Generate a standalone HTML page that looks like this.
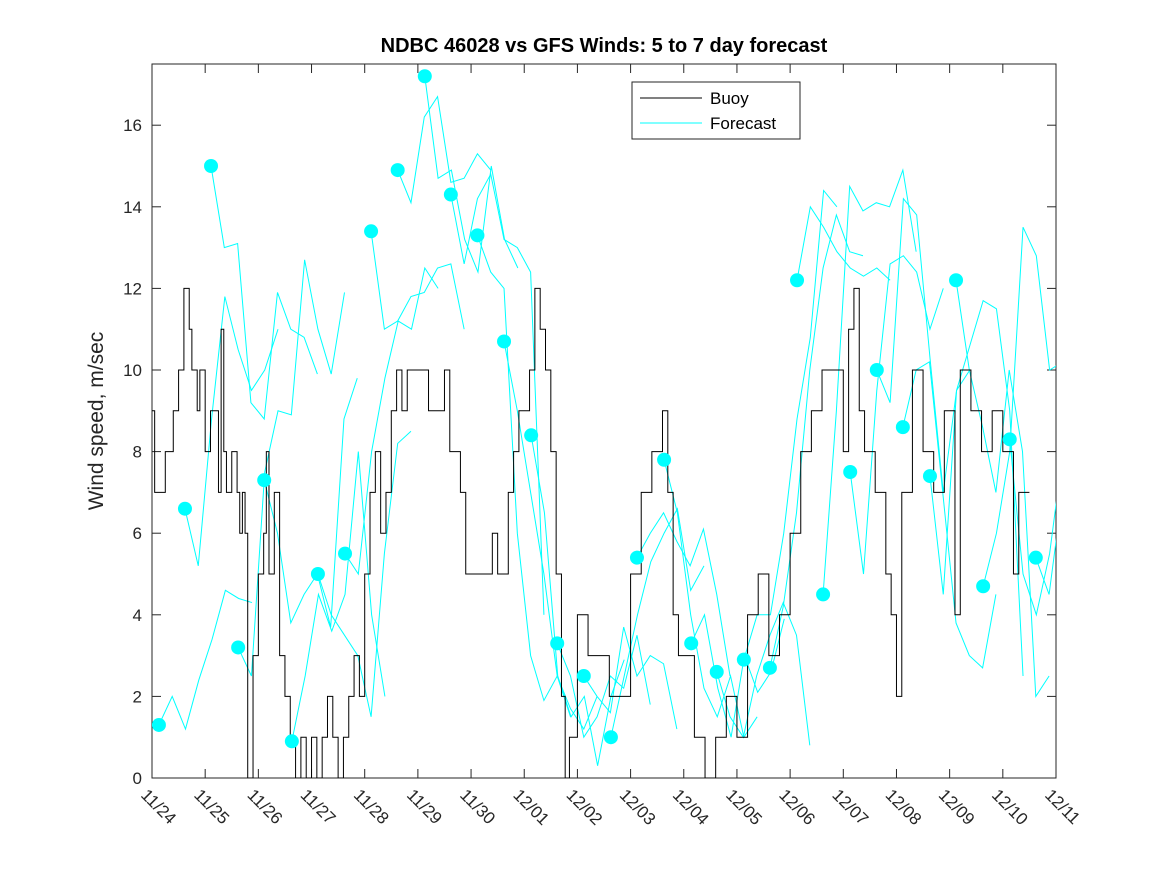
<!DOCTYPE html>
<html><head><meta charset="utf-8"><style>
body{margin:0;background:#fff;}
svg text{font-family:"Liberation Sans",sans-serif;}
</style></head><body>
<svg id="chart" width="1167" height="875" viewBox="0 0 1167 875" xmlns="http://www.w3.org/2000/svg">
<rect width="1167" height="875" fill="#fff"/>
<defs><clipPath id="clip"><rect x="152" y="64" width="904" height="714"/></clipPath></defs>
<rect x="152" y="64" width="904" height="714" fill="#fff" stroke="#262626" stroke-width="1"/>
<g id="axes"></g>
<g id="series" clip-path="url(#clip)"></g>
<text x="604" y="52" text-anchor="middle" font-size="20" font-weight="bold">NDBC 46028 vs GFS Winds: 5 to 7 day forecast</text>
<text transform="translate(103,421) rotate(-90)" text-anchor="middle" font-size="21" fill="#262626">Wind speed, m/sec</text>
<g>
<rect x="632" y="82" width="168" height="57" fill="#fff" stroke="#262626"/>
<line x1="640" y1="98" x2="702" y2="98" stroke="#000"/>
<text x="710" y="104" font-size="17">Buoy</text>
<line x1="640" y1="123" x2="702" y2="123" stroke="#0ff"/>
<text x="710" y="129" font-size="17">Forecast</text>
</g>
</svg>
<script>
const xTickLabels=["11/24","11/25","11/26","11/27","11/28","11/29","11/30","12/01","12/02","12/03","12/04","12/05","12/06","12/07","12/08","12/09","12/10","12/11"];
const yTicks=[0,2,4,6,8,10,12,14,16];
const buoyT=[0,0.05,0.25,0.4,0.5,0.6,0.7,0.75,0.85,0.9,1.0,1.1,1.25,1.3,1.35,1.4,1.5,1.6,1.65,1.7,1.75,1.8,1.9,2.0,2.1,2.15,2.2,2.3,2.4,2.5,2.6,2.7,2.8,2.9,3.0,3.1,3.2,3.3,3.4,3.5,3.6,3.7,3.8,3.9,4.0,4.1,4.2,4.3,4.4,4.5,4.6,4.7,4.8,5.0,5.2,5.4,5.5,5.6,5.8,5.9,6.0,6.2,6.4,6.5,6.6,6.7,6.8,6.9,7.0,7.1,7.2,7.3,7.4,7.5,7.6,7.7,7.77,7.85,8.0,8.2,8.4,8.6,8.8,9.0,9.2,9.4,9.6,9.7,9.8,9.9,10.0,10.2,10.4,10.6,10.8,11.0,11.2,11.4,11.6,11.8,12.0,12.2,12.4,12.6,12.8,13.0,13.1,13.2,13.3,13.4,13.6,13.8,13.9,14.0,14.1,14.3,14.5,14.7,14.9,15.0,15.1,15.2,15.4,15.6,15.8,16.0,16.2,16.3];
const buoyV=[9,7,8,9,10,12,11,10,9,10,8,9,7,11,8,7,8,7,6,7,6,0,3,5,6,8,5,7,3,2,1,0,1,0,1,0,1,2,1,0,1,2,3,2,5,7,8,6,7,9,10,9,10,10,9,9,10,8,7,5,5,5,6,5,5,7,8,9,9,10,12,11,10,8,5,2,0,1,4,3,3,2,2,5,7,8,9,7,4,3,3,1,0,1,2,1,4,5,3,4,6,8,9,10,10,8,11,12,9,8,7,5,4,2,7,10,8,7,9,9,4,10,9,8,9,8,5,7];
const fcStart=[0.13,0.62,1.11,1.62,2.11,2.63,3.12,3.63,4.12,4.62,5.13,5.62,6.12,6.62,7.13,7.62,8.12,8.63,9.12,9.63,10.14,10.62,11.13,11.62,12.13,12.62,13.13,13.63,14.12,14.63,15.12,15.63,16.13,16.62];
const fcVals=[
[1.3,2.0,1.2,2.4,3.4,4.6,4.4,4.3],
[6.6,5.2,8.8,11.8,10.5,9.5,10,11],
[15,13,13.1,9.2,8.8,11.9,11,10.8,9.9],
[3.2,2.5,7.5,9.0,8.9,12.7,11,9.9,11.9],
[7.3,6,3.8,4.5,5,3.7,8.8,9.8],
[0.9,2.5,4.5,3.6,4.5,8,4,2],
[5.0,4,3.5,3,1.5,5.5,8.2,8.5],
[5.5,5,8,9.8,11.2,11,12.5,12],
[13.4,11,11.2,11.8,11.9,12.5,12.6,11],
[14.9,14.1,16.2,16.7,14.6,14.7,15.3,14.9],
[17.2,14.7,14.9,13.2,12.4,15,13.2,12.5],
[14.3,12.6,14.2,14.8,13.2,13.0,12.4,4],
[13.3,12.4,12,6,3,1.9,2.5,1.5],
[10.7,9,7,5,2.5,1.7,1.2,2],
[8.4,6.5,2.5,1.5,2,0.3,2,2.9],
[3.3,2.5,1,1.5,2.5,2.2,3.5,1.8],
[2.5,2,1.6,3.7,2.5,3,2.8,1.2],
[1,2.5,4,5.3,6,6.6,4.6,5.2],
[5.4,6,6.5,5.8,5.2,6.1,4.5,2.5],
[7.8,6.5,4,2.2,1.5,2.5,1,1.5],
[3.3,4,2.2,1,3,2.1,2.6,3.9],
[2.6,1.5,1,2.5,3.5,4.3,3.5,0.8],
[2.9,4,4,6,8.8,10.8,14.4,14],
[2.7,4.2,6.5,10,12.5,13.8,12.9,12.8],
[12.2,14,13.5,12.9,12.5,12.3,12.5,12.2],
[4.5,9,14.5,13.9,14.1,14,14.9,12.9],
[7.5,5,9.5,12.6,12.8,12.4,11,12],
[10,9.2,14.2,13.8,10.3,7,9.5,10],
[8.6,10,10.2,7,3.8,3,2.7,4.5],
[7.4,4.5,9.5,10.6,11.7,11.5,9,2.5],
[12.2,10,8.6,7,10,8,2,2.5],
[4.7,6,8,13.5,12.8,10,10.2,4.3],
[8.3,5,4,5.5,8,8,7.8,13.7],
[5.4,4.5,7,9,14.3,16.9]
];
const fcStep=0.25;
const X0=152,X1=1056,Y0=778,Y1=64,DAYS=17,YMAX=17.5;
const sx=d=>X0+d*(X1-X0)/DAYS;
const sy=v=>Y0-v*(Y0-Y1)/YMAX;
const NS="http://www.w3.org/2000/svg";
const axes=document.getElementById('axes'),series=document.getElementById('series');
function mk(tag,attrs,parent){const e=document.createElementNS(NS,tag);for(const k in attrs)e.setAttribute(k,attrs[k]);parent.appendChild(e);return e;}
xTickLabels.forEach((lab,i)=>{
  const x=sx(i);
  const t1=mk('line',{x1:x,y1:Y0,x2:x,y2:Y0-9,stroke:'#262626'},axes);
  
  
  mk('line',{x1:x,y1:Y1,x2:x,y2:Y1+9,stroke:'#262626'},axes);
  const tx=mk('text',{transform:`translate(${x-12},${Y0+18}) rotate(45)`,'font-size':17,fill:'#262626'},axes);
  tx.textContent=lab;
  
  
});
yTicks.forEach(v=>{
  const y=sy(v);
  const t1=mk('line',{x1:X0,y1:y,x2:X0+9,y2:y,stroke:'#262626'},axes);
  
  
  mk('line',{x1:X1,y1:y,x2:X1-9,y2:y,stroke:'#262626'},axes);
  const tx=mk('text',{x:X0-10,y:y+6,'text-anchor':'end','font-size':17,fill:'#262626'},axes);
  tx.textContent=v;
  
  
});
// buoy step line
let d='';
buoyT.forEach((t,i)=>{
  const x=sx(t),y=sy(buoyV[i]);
  if(i===0)d+=`M${x},${y}`;else d+=`H${x}V${y}`;
});
d+=`H${sx(16.5)}`;
fcVals.forEach((vals,k)=>{
  let p='';
  vals.forEach((v,j)=>{p+=(j?'L':'M')+sx(fcStart[k]+j*fcStep)+','+sy(v);});
  const l=mk('path',{d:p,fill:'none',stroke:'#0ff','stroke-width':1},series);
  
  
});
const b=mk('path',{d:d,fill:'none',stroke:'#000','stroke-width':1},series);


fcVals.forEach((vals,k)=>{
  const c=mk('circle',{cx:sx(fcStart[k]),cy:sy(vals[0]),r:7,fill:'#0ff'},series);
  
  
});
</script>
</body></html>
